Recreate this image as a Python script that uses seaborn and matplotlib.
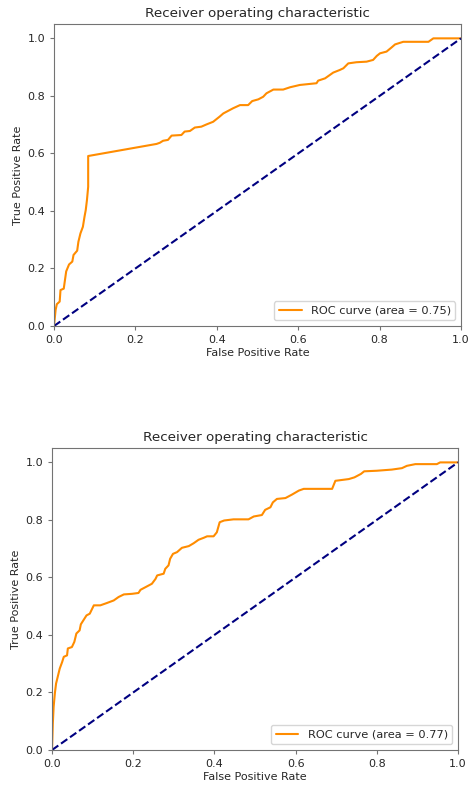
import matplotlib
matplotlib.use("Agg")
import matplotlib.pyplot as plt
import seaborn as sns
import pandas as pd

fpr_a = [0.0, 0.004, 0.007, 0.014, 0.016, 0.024, 0.027, 0.030, 0.037, 0.045, 0.048, 0.057, 0.060, 0.065,
         0.071, 0.075, 0.078, 0.081, 0.084, 0.084, 0.252, 0.26, 0.268, 0.28, 0.289, 0.313, 0.321, 0.334,
         0.346, 0.362, 0.375, 0.391, 0.407, 0.416, 0.432, 0.44, 0.457, 0.477, 0.487, 0.502, 0.514, 0.522,
         0.539, 0.563, 0.58, 0.604, 0.645, 0.649, 0.666, 0.686, 0.702, 0.711, 0.723, 0.743, 0.768, 0.784,
         0.793, 0.801, 0.817, 0.829, 0.838, 0.858, 0.92, 0.932, 1.0]
tpr_a = [0.0, 0.056, 0.076, 0.085, 0.125, 0.13, 0.16, 0.19, 0.214, 0.224, 0.247, 0.262, 0.293, 0.322,
         0.345, 0.38, 0.403, 0.438, 0.484, 0.591, 0.633, 0.637, 0.644, 0.647, 0.662, 0.664, 0.676, 0.678,
         0.69, 0.693, 0.701, 0.71, 0.728, 0.739, 0.751, 0.757, 0.768, 0.768, 0.782, 0.788, 0.797, 0.809,
         0.822, 0.822, 0.83, 0.838, 0.844, 0.853, 0.861, 0.881, 0.89, 0.896, 0.913, 0.917, 0.919, 0.925,
         0.939, 0.948, 0.954, 0.968, 0.979, 0.988, 0.988, 1.0, 1.0]
auc_a = 0.75

fpr_b = [0.0, 0.002, 0.004, 0.007, 0.01, 0.014, 0.019, 0.025, 0.029, 0.037, 0.039, 0.049, 0.055, 0.06,
         0.068, 0.071, 0.08, 0.085, 0.093, 0.103, 0.119, 0.135, 0.152, 0.164, 0.177, 0.197, 0.213, 0.218,
         0.234, 0.246, 0.255, 0.259, 0.275, 0.279, 0.287, 0.291, 0.298, 0.308, 0.32, 0.337, 0.349, 0.361,
         0.374, 0.382, 0.398, 0.406, 0.413, 0.424, 0.447, 0.484, 0.497, 0.517, 0.525, 0.538, 0.544, 0.554,
         0.575, 0.591, 0.608, 0.62, 0.69, 0.698, 0.731, 0.745, 0.761, 0.769, 0.80, 0.837, 0.862, 0.874,
         0.895, 0.948, 0.956, 1.0]
tpr_b = [0.0, 0.092, 0.15, 0.197, 0.231, 0.254, 0.283, 0.306, 0.324, 0.329, 0.353, 0.358, 0.376, 0.405,
         0.416, 0.437, 0.457, 0.468, 0.474, 0.503, 0.503, 0.511, 0.52, 0.532, 0.541, 0.543, 0.546, 0.557,
         0.569, 0.578, 0.595, 0.607, 0.613, 0.63, 0.642, 0.665, 0.682, 0.688, 0.703, 0.709, 0.719, 0.731,
         0.738, 0.743, 0.743, 0.757, 0.792, 0.798, 0.802, 0.802, 0.812, 0.817, 0.835, 0.844, 0.861, 0.873,
         0.876, 0.888, 0.902, 0.908, 0.908, 0.936, 0.942, 0.948, 0.96, 0.969, 0.971, 0.975, 0.98, 0.988,
         0.994, 0.994, 1.0, 1.0]
auc_b = 0.77

chance = [0.0, 1.0]
ticks = [0.0, 0.2, 0.4, 0.6, 0.8, 1.0]

sns.set_style("ticks")
plt.rcParams.update({
    "font.family": ["DejaVu Sans"],
    "axes.edgecolor": "0.45",
    "xtick.color": "0.45",
    "ytick.color": "0.45",
    "xtick.labelcolor": "0.15",
    "ytick.labelcolor": "0.15",
    "text.color": "0.15",
    "axes.labelcolor": "0.15",
})

fig = plt.figure(figsize=(4.69, 7.86), dpi=100)
ax1 = fig.add_axes([0.1151, 0.5852, 0.983 - 0.1151, 0.9695 - 0.5852])
ax2 = fig.add_axes([0.1109, 0.0458, 0.9765 - 0.1109, 0.430 - 0.0458])

for ax, fpr, tpr, auc in [(ax1, fpr_a, tpr_a, auc_a), (ax2, fpr_b, tpr_b, auc_b)]:
    df = pd.DataFrame({"fpr": fpr, "tpr": tpr})
    sns.lineplot(data=df, x="fpr", y="tpr", sort=False, estimator=None, ax=ax,
                 color="darkorange", lw=1.5, label="ROC curve (area = %0.2f)" % auc)
    sns.lineplot(x=chance, y=chance, ax=ax, color="navy", lw=1.5, linestyle="--")
    ax.set_xlim(0.0, 1.0)
    ax.set_ylim(0.0, 1.05)
    ax.set_xticks(ticks)
    ax.set_yticks(ticks)
    ax.tick_params(labelsize=8, length=3, width=0.8)
    ax.set_xlabel("False Positive Rate", fontsize=8, labelpad=2)
    ax.set_ylabel("True Positive Rate", fontsize=8, labelpad=3)
    ax.set_title("Receiver operating characteristic", fontsize=9.7, pad=5)
    ax.legend(loc="lower right", fontsize=8.2, frameon=True)

fig.savefig("out.png", dpi=100)
